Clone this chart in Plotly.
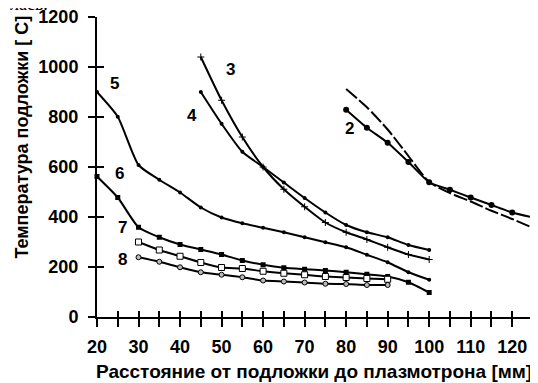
import plotly.graph_objects as go

# ---- data ----
x_c1 = [80, 85, 90, 95, 100, 105, 110, 115, 120, 125]
y_c1 = [912, 839, 750, 644, 540, 496, 462, 425, 392, 356]          # dashed curve

x_c2 = [80, 85, 90, 95, 100, 105, 110, 115, 120, 125]
y_c2 = [829, 757, 697, 620, 539, 509, 478, 448, 418, 398]

x_c3 = [45, 50, 55, 60, 65, 70, 75, 80, 85, 90, 95, 100]
y_c3 = [1040, 867, 720, 600, 511, 441, 378, 339, 310, 279, 250, 230]

x_c4 = [45, 50, 55, 60, 65, 70, 75, 80, 85, 90, 95, 100]
y_c4 = [900, 773, 661, 600, 538, 476, 418, 368, 339, 319, 288, 268]

x_c5 = [20, 25, 30, 35, 40, 45, 50, 55, 60, 65, 70, 75, 80, 85, 90, 95, 100]
y_c5 = [900, 801, 608, 549, 498, 438, 398, 375, 357, 339, 319, 299, 279, 249, 219, 179, 149]

x_c6 = [20, 25, 30, 35, 40, 45, 50, 55, 60, 65, 70, 75, 80, 85, 90, 95, 100]
y_c6 = [562, 478, 359, 319, 290, 270, 250, 226, 209, 197, 191, 186, 179, 171, 162, 139, 98]

x_c7 = [30, 35, 40, 45, 50, 55, 60, 65, 70, 75, 80, 85, 90]
y_c7 = [300, 268, 243, 218, 198, 194, 183, 175, 169, 162, 158, 154, 151]

x_c8 = [30, 35, 40, 45, 50, 55, 60, 65, 70, 75, 80, 85, 90]
y_c8 = [239, 221, 199, 179, 169, 159, 146, 142, 138, 133, 132, 128, 128]

curve_labels = ["2", "3", "4", "5", "6", "7", "8"]
label_x = [80.8, 52.1, 42.9, 24.3, 25.5, 26.2, 26.2]
label_y = [755, 990, 805, 935, 575, 360, 230]

x_ticks = list(range(20, 130, 5))
x_ticktext = [str(v) if v % 10 == 0 else "" for v in x_ticks]
y_ticks = [0, 200, 400, 600, 800, 1000, 1200]

x_title = "Расстояние от подложки до плазмотрона [мм]"
y_title = "Температура подложки [ С]"
top_text = "лась."

FONT = "Liberation Sans, Arial, sans-serif"
BLACK = "#000000"

fig = go.Figure()

def add_line(xs, ys, symbol, size, fill=BLACK, mline=0, dash="solid"):
    fig.add_trace(go.Scatter(
        x=xs, y=ys, mode="lines+markers" if symbol else "lines",
        line=dict(color=BLACK, width=2, shape="spline", smoothing=0.6, dash=dash),
        marker=dict(symbol=symbol or "circle", size=size, color=fill,
                    line=dict(color=BLACK, width=mline)),
        showlegend=False, cliponaxis=False, hoverinfo="skip"))

add_line(x_c1, y_c1, None, 0, dash="14px,3px")
add_line(x_c2, y_c2, "circle", 6)
add_line(x_c3, y_c3, "cross-thin", 5, fill=BLACK, mline=1)
add_line(x_c4, y_c4, "circle", 4)
add_line(x_c5, y_c5, "circle", 4)
add_line(x_c6, y_c6, "square", 5)
add_line(x_c7, y_c7, "square", 6, fill="white", mline=1)
add_line(x_c8, y_c8, "circle", 5, fill="#bbbbbb", mline=1)

# invisible trace for the overlay axes (inner half of the crossing ticks)
fig.add_trace(go.Scatter(x=[None], y=[None], xaxis="x2", yaxis="y2",
                         showlegend=False, hoverinfo="skip"))

for t, lx, ly in zip(curve_labels, label_x, label_y):
    fig.add_annotation(x=lx, y=ly, text=t, showarrow=False,
                       font=dict(family=FONT, size=17, color=BLACK, weight="bold"))

fig.add_annotation(xref="paper", yref="paper", x=0.497, y=-0.183, text=x_title,
                   showarrow=False, xanchor="center", yanchor="middle",
                   font=dict(family=FONT, size=19, color=BLACK, weight="bold"))
fig.add_annotation(xref="paper", yref="paper", x=-0.172, y=0.598, text=y_title,
                   showarrow=False, textangle=-90, xanchor="center", yanchor="middle",
                   font=dict(family=FONT, size=18, color=BLACK, weight="bold"))
# cropped fragment of the page text above the chart
fig.add_annotation(xref="paper", yref="paper", x=-0.204, y=1.005, text=top_text,
                   showarrow=False, xanchor="left", yanchor="bottom",
                   font=dict(family="Liberation Serif, serif", size=18, color=BLACK))

axis_common = dict(showgrid=False, zeroline=False, color=BLACK, automargin=False)

# the page body adds an 8 px offset, so the figure is 530x375 inside a 538x383 window
fig.update_layout(
    width=530, height=375,
    margin=dict(l=89, r=5, t=9, b=66, autoexpand=False),
    paper_bgcolor="white", plot_bgcolor="white",
    xaxis=dict(range=[20, 125], tickvals=x_ticks, ticktext=x_ticktext,
               ticks="outside", ticklen=8, tickwidth=2, tickcolor=BLACK,
               showline=True, linewidth=2, linecolor=BLACK,
               ticklabelstandoff=4, ticklabeloverflow="allow",
               tickfont=dict(family=FONT, size=18, color=BLACK, weight="bold"),
               **axis_common),
    yaxis=dict(range=[0, 1200], tickvals=y_ticks,
               ticks="outside", ticklen=7, tickwidth=2, tickcolor=BLACK,
               showline=True, linewidth=2, linecolor=BLACK,
               ticklabelstandoff=6, ticklabeloverflow="allow",
               tickfont=dict(family=FONT, size=18, color=BLACK, weight="bold"),
               **axis_common),
    xaxis2=dict(range=[20, 125], overlaying="x", anchor="y2", tickvals=x_ticks,
                ticks="inside", ticklen=6, tickwidth=2, tickcolor=BLACK,
                showticklabels=False, showline=False, **axis_common),
    yaxis2=dict(range=[0, 1200], overlaying="y", anchor="x2", tickvals=y_ticks,
                ticks="inside", ticklen=7, tickwidth=2, tickcolor=BLACK,
                showticklabels=False, showline=False, **axis_common),
)

fig.write_html("out.html")
